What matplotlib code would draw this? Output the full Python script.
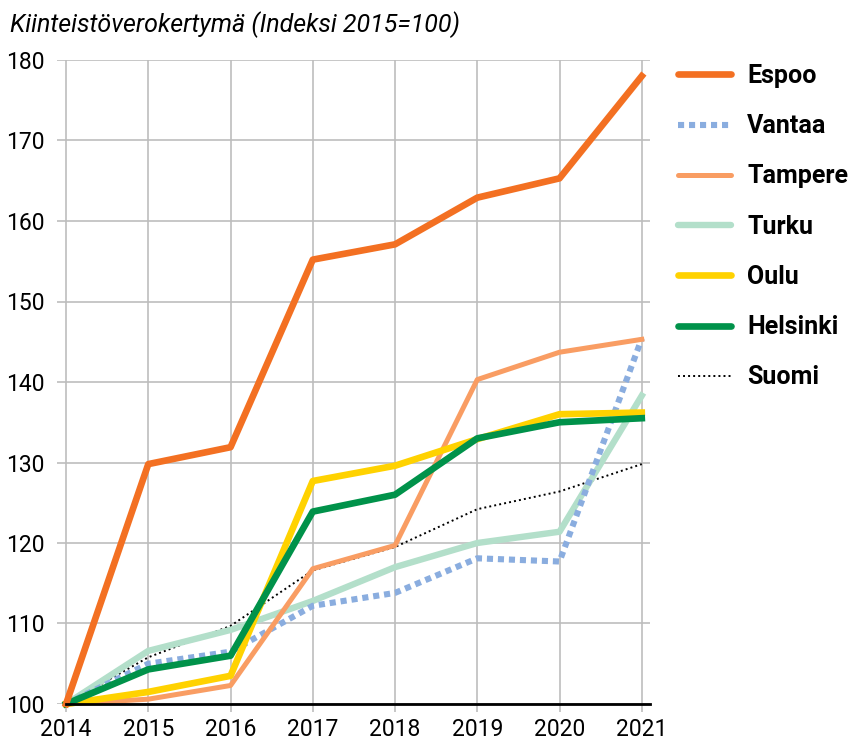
import matplotlib.pyplot as plt
import numpy as np

plt.rcParams['font.family'] = ['Roboto', 'DejaVu Sans']

years = [2014, 2015, 2016, 2017, 2018, 2019, 2020, 2021]

espoo = [100, 129.8, 131.9, 155.2, 157.1, 162.9, 165.3, 178.0]
vantaa = [100, 105.0, 106.5, 112.2, 113.8, 118.1, 117.7, 145.4]
tampere = [100, 100.6, 102.3, 116.8, 119.7, 140.3, 143.7, 145.3]
turku = [100, 106.6, 109.2, 112.8, 117.0, 120.0, 121.4, 138.3]
oulu = [100, 101.5, 103.5, 127.7, 129.6, 132.9, 136.0, 136.2]
helsinki = [100, 104.3, 106.0, 123.9, 126.0, 133.0, 135.0, 135.5]
suomi = [100, 105.8, 109.7, 116.6, 119.5, 124.2, 126.4, 129.8]

fig = plt.figure(figsize=(8.51, 7.44), dpi=100)
ax = fig.add_axes([57 / 851, 40 / 744, 593 / 851, 644 / 744])

grid_col = '#bdbdbd'
ax.set_axisbelow(True)
ax.grid(True, color=grid_col, linewidth=1.2)

# series, drawn bottom to top
ax.plot(years, suomi, color='black', linewidth=1.4, linestyle=(0, (1, 1.6)),
        label='Suomi', zorder=2, clip_on=False)
ax.plot(years, turku, color='#b3dfca', linewidth=4.6, label='Turku',
        zorder=3, clip_on=False)
ax.plot(years, vantaa, color='#8aaddf', linewidth=4.4, linestyle=(0, (1, 0.8)),
        label='Vantaa', zorder=4, clip_on=False)
ax.plot(years, tampere, color='#f99d63', linewidth=3.6, label='Tampere',
        zorder=5, clip_on=False)
ax.plot(years, oulu, color='#ffd200', linewidth=4.8, label='Oulu',
        zorder=6, clip_on=False)
ax.plot(years, helsinki, color='#00924a', linewidth=4.8, label='Helsinki',
        zorder=7, clip_on=False)
ax.plot(years, espoo, color='#f37022', linewidth=4.8, label='Espoo',
        zorder=8, clip_on=False)

ax.set_xlim(2013.89, 2021.1)
ax.set_ylim(100, 180)
ax.set_xticks(years)
ax.set_yticks(np.arange(100, 181, 10))

for s in ['top', 'right', 'left']:
    ax.spines[s].set_visible(False)
ax.spines['bottom'].set_color('black')
ax.spines['bottom'].set_linewidth(2)
ax.spines['bottom'].set_bounds(2014, 2021.1)
ax.spines['bottom'].set_zorder(9)

ax.tick_params(axis='x', direction='out', length=6, width=1.2, color=grid_col,
               labelsize=16.5, pad=4)
ax.tick_params(axis='y', length=0, labelsize=16.5, pad=9)

fig.text(10 / 851, 1 - 11 / 744, 'Kiinteistöverokertymä (Indeksi 2015=100)',
         fontsize=18, fontstyle='italic', va='top', ha='left')

order = ['Espoo', 'Vantaa', 'Tampere', 'Turku', 'Oulu', 'Helsinki', 'Suomi']
handles, labels = ax.get_legend_handles_labels()
lookup = dict(zip(labels, handles))
leg = fig.legend([lookup[k] for k in order], order, loc='upper left',
                 bbox_to_anchor=(678 / 851, 1 - 64 / 744), frameon=False,
                 borderpad=0, borderaxespad=0,
                 prop={'size': 18, 'weight': 'semibold'},
                 handlelength=2.12, handletextpad=0.64, labelspacing=1.05)
for line in leg.get_lines():
    line.set_solid_capstyle('round')

fig.savefig('out.png', dpi=100)
